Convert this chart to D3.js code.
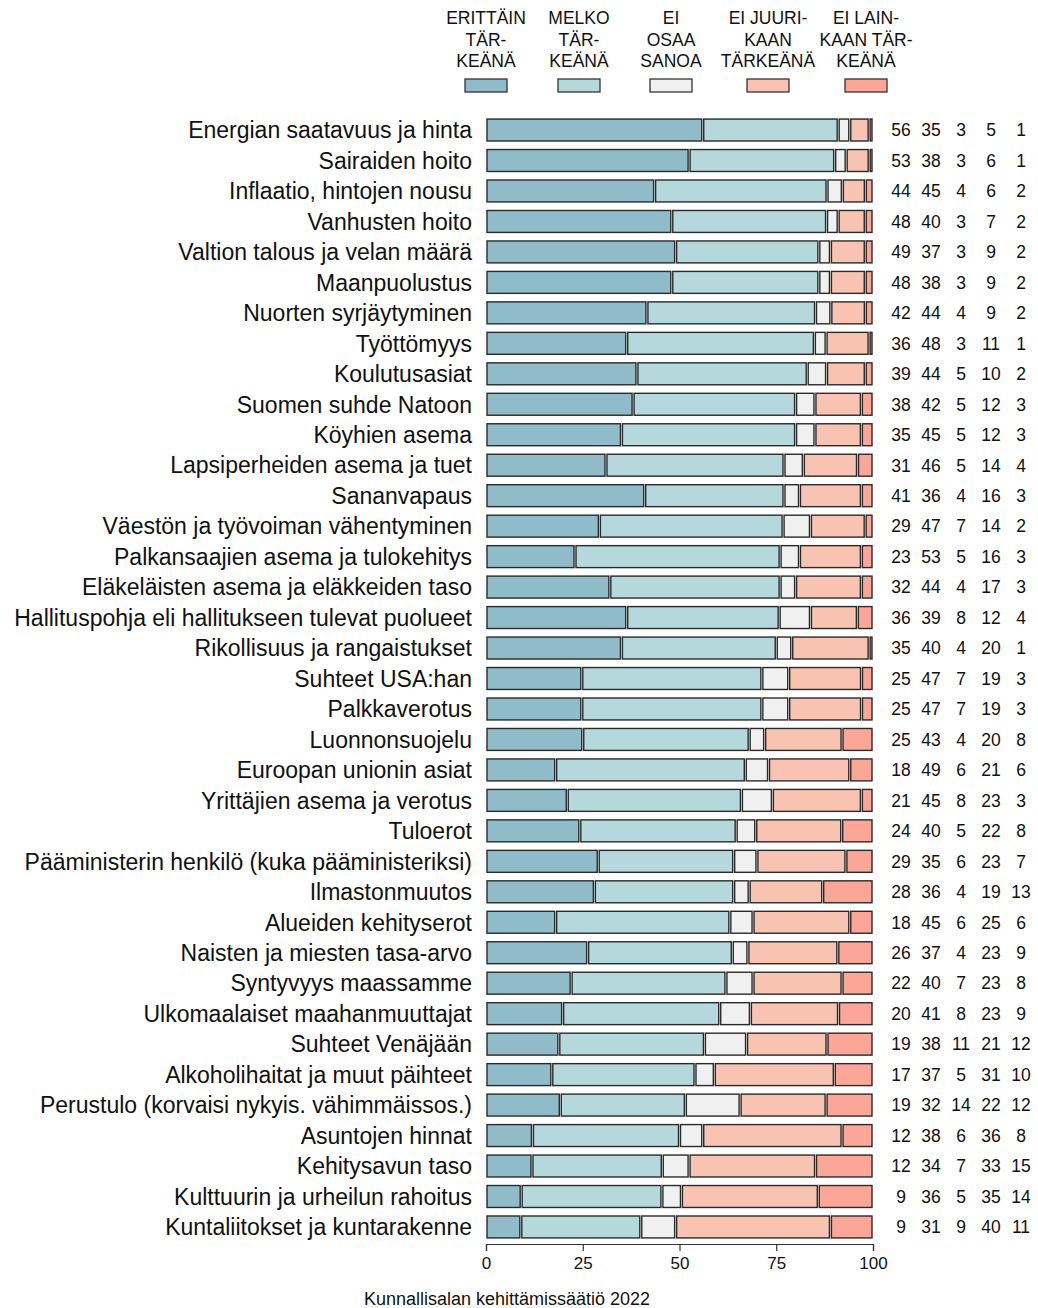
<!DOCTYPE html>
<html>
<head>
<meta charset="utf-8">
<script src="https://cdn.jsdelivr.net/npm/d3@7"></script>
<style>
  body { margin: 0; background: #fff; }
  text { font-family: "Liberation Sans", Arial, sans-serif; fill: #111; }
</style>
</head>
<body>
<svg id="chart" width="1038" height="1308"></svg>
<script>
// legend text, one list per category
var legendLines = [
  ['ERITTÄIN', 'TÄR-', 'KEÄNÄ'],
  ['MELKO', 'TÄR-', 'KEÄNÄ'],
  ['EI', 'OSAA', 'SANOA'],
  ['EI JUURI-', 'KAAN', 'TÄRKEÄNÄ'],
  ['EI LAIN-', 'KAAN TÄR-', 'KEÄNÄ']
];
var colors = ['#8fbcc8', '#b4d8db', '#f0f0f0', '#f8c4b1', '#fca697'];

var topics = [
  'Energian saatavuus ja hinta',
  'Sairaiden hoito',
  'Inflaatio, hintojen nousu',
  'Vanhusten hoito',
  'Valtion talous ja velan määrä',
  'Maanpuolustus',
  'Nuorten syrjäytyminen',
  'Työttömyys',
  'Koulutusasiat',
  'Suomen suhde Natoon',
  'Köyhien asema',
  'Lapsiperheiden asema ja tuet',
  'Sananvapaus',
  'Väestön ja työvoiman vähentyminen',
  'Palkansaajien asema ja tulokehitys',
  'Eläkeläisten asema ja eläkkeiden taso',
  'Hallituspohja eli hallitukseen tulevat puolueet',
  'Rikollisuus ja rangaistukset',
  'Suhteet USA:han',
  'Palkkaverotus',
  'Luonnonsuojelu',
  'Euroopan unionin asiat',
  'Yrittäjien asema ja verotus',
  'Tuloerot',
  'Pääministerin henkilö (kuka pääministeriksi)',
  'Ilmastonmuutos',
  'Alueiden kehityserot',
  'Naisten ja miesten tasa-arvo',
  'Syntyvyys maassamme',
  'Ulkomaalaiset maahanmuuttajat',
  'Suhteet Venäjään',
  'Alkoholihaitat ja muut päihteet',
  'Perustulo (korvaisi nykyis. vähimmäissos.)',
  'Asuntojen hinnat',
  'Kehitysavun taso',
  'Kulttuurin ja urheilun rahoitus',
  'Kuntaliitokset ja kuntarakenne'
];

// percentages per category, same row order as topics
var erittain = [56, 53, 44, 48, 49, 48, 42, 36, 39, 38, 35, 31, 41, 29, 23, 32, 36, 35, 25, 25, 25, 18, 21, 24, 29, 28, 18, 26, 22, 20, 19, 17, 19, 12, 12, 9, 9];
var melko    = [35, 38, 45, 40, 37, 38, 44, 48, 44, 42, 45, 46, 36, 47, 53, 44, 39, 40, 47, 47, 43, 49, 45, 40, 35, 36, 45, 37, 40, 41, 38, 37, 32, 38, 34, 36, 31];
var eiOsaa   = [3, 3, 4, 3, 3, 3, 4, 3, 5, 5, 5, 5, 4, 7, 5, 4, 8, 4, 7, 7, 4, 6, 8, 5, 6, 4, 6, 4, 7, 8, 11, 5, 14, 6, 7, 5, 9];
var eiJuuri  = [5, 6, 6, 7, 9, 9, 9, 11, 10, 12, 12, 14, 16, 14, 16, 17, 12, 20, 19, 19, 20, 21, 23, 22, 23, 19, 25, 23, 23, 23, 21, 31, 22, 36, 33, 35, 40];
var eiLain   = [1, 1, 2, 2, 2, 2, 2, 1, 2, 3, 3, 4, 3, 2, 3, 3, 4, 1, 3, 3, 8, 6, 3, 8, 7, 13, 6, 9, 8, 9, 12, 10, 12, 8, 15, 14, 11];

var ticks = [0, 25, 50, 75, 100];
var source = 'Kunnallisalan kehittämissäätiö 2022';

var series = [erittain, melko, eiOsaa, eiJuuri, eiLain];
var rows = topics.map(function (t, i) {
  var vals = series.map(function (s) { return s[i]; });
  var tot = d3.sum(vals);
  var acc = 0;
  var segs = vals.map(function (v, k) {
    var s = { k: k, x0: acc / tot * 100, x1: (acc + v) / tot * 100 };
    acc += v;
    return s;
  });
  return { topic: t, vals: vals, segs: segs };
});

var svg = d3.select('#chart');

var x = d3.scaleLinear().domain([0, 100]).range([486, 873]);
var y = d3.scaleBand()
  .domain(topics)
  .range([114.8, 1242.2])
  .paddingInner(0.28)
  .paddingOuter(0.14);

// legend
var legX = [486, 579, 671, 768, 866];
var leg = svg.append('g')
  .selectAll('g')
  .data(legendLines)
  .enter()
  .append('g')
  .attr('transform', (d, i) => 'translate(' + legX[i] + ',0)');
leg.selectAll('text')
  .data((d) => d)
  .enter()
  .append('text')
  .attr('x', 0)
  .attr('y', (d, j) => 24 + j * 21.5)
  .attr('text-anchor', 'middle')
  .attr('font-size', 17.5)
  .text((d) => d);
leg.append('rect')
  .attr('x', -21)
  .attr('y', 79)
  .attr('width', 42)
  .attr('height', 13)
  .attr('fill', (d, i) => colors[i])
  .attr('stroke', '#333')
  .attr('stroke-width', 1.3);

// bars
var rg = svg.append('g')
  .selectAll('g')
  .data(rows)
  .enter()
  .append('g')
  .attr('transform', (d) => 'translate(0,' + y(d.topic) + ')');

rg.selectAll('rect')
  .data((d) => d.segs)
  .enter()
  .append('rect')
  .attr('x', (d) => x(d.x0) + 1)
  .attr('width', (d) => Math.max(0.5, x(d.x1) - x(d.x0) - 2))
  .attr('y', 0)
  .attr('height', y.bandwidth())
  .attr('fill', (d) => colors[d.k])
  .attr('stroke', '#2a2a2a')
  .attr('stroke-width', 1.4);

// row labels
rg.append('text')
  .attr('x', 472)
  .attr('y', y.bandwidth() / 2)
  .attr('dy', '0.36em')
  .attr('text-anchor', 'end')
  .attr('font-size', 23)
  .text((d) => d.topic);

// values column
var valX = [901, 931, 961, 991, 1021];
rg.selectAll('text.val')
  .data((d) => d.vals)
  .enter()
  .append('text')
  .attr('class', 'val')
  .attr('x', (d, k) => valX[k])
  .attr('y', y.bandwidth() / 2)
  .attr('dy', '0.36em')
  .attr('text-anchor', 'middle')
  .attr('font-size', 17.5)
  .text((d) => d);

// x axis
var ax = svg.append('g')
  .attr('transform', 'translate(0,1244)')
  .call(d3.axisBottom(x).tickValues(ticks).tickSize(7).tickPadding(6));
ax.select('.domain').attr('stroke', '#333').attr('stroke-width', 1.2);
ax.selectAll('.tick line').attr('stroke', '#333').attr('stroke-width', 1.2);
ax.selectAll('.tick text')
  .attr('font-size', 17)
  .attr('font-family', '"Liberation Sans", Arial, sans-serif')
  .attr('fill', '#111');

svg.append('text')
  .attr('x', 507)
  .attr('y', 1305)
  .attr('text-anchor', 'middle')
  .attr('font-size', 18)
  .text(source);
</script>
</body>
</html>
